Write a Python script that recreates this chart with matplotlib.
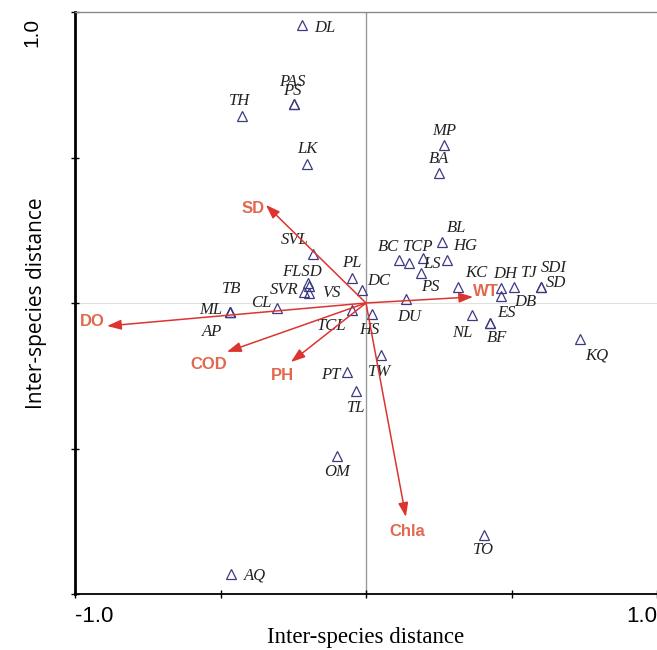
import matplotlib
matplotlib.use("Agg")
import matplotlib.pyplot as plt

# site scores (axis 1, axis 2) and label offsets in pixels
site_names = ["DL", "PAS", "PS", "TH", "LK", "MP", "BA", "BL", "BC", "TCP", "LS", "HG", "PS",
              "KC", "DH", "TJ", "SDI", "SD", "DB", "DU", "ES", "NL", "BF", "KQ", "TO", "AQ",
              "OM", "TL", "PT", "TW", "HS", "TCL", "DC", "PL", "SVL", "FLSD", "", "SVR", "VS",
              "CL", "TB", "ML", "AP"]
site_x = [-0.220, -0.247, -0.247, -0.426, -0.203, 0.268, 0.251, 0.261, 0.113, 0.148, 0.196, 0.278, 0.189,
          0.316, 0.464, 0.509, 0.601, 0.601, 0.464, 0.137, 0.426, 0.364, 0.426, 0.735, 0.405, -0.464,
          -0.100, -0.034, -0.065, 0.052, 0.021, -0.048, -0.014, -0.048, -0.182, -0.199, -0.196, -0.213, -0.196,
          -0.306, -0.467, -0.467, -0.467]
site_y = [0.955, 0.684, 0.684, 0.643, 0.478, 0.543, 0.447, 0.210, 0.148, 0.137, 0.155, 0.148, 0.103,
          0.055, 0.052, 0.055, 0.055, 0.055, 0.024, 0.014, -0.069, -0.041, -0.069, -0.124, -0.797, -0.931,
          -0.526, -0.302, -0.237, -0.179, -0.038, -0.024, 0.045, 0.086, 0.168, 0.069, 0.058, 0.038, 0.034,
          -0.017, -0.031, -0.031, -0.031]
label_dx = [23, -2, -2, -3, 0, 0, 0, 15, -10, 9, 9, 18, 9,
            18, 4, 15, 13, 15, 24, 3, 16, -10, 7, 17, 0, 24,
            0, 0, -16, -2, -3, -20, 17, 0, -18, -6, 0, -20, 22,
            -16, 1, -19, -18]
label_dy = [-3, 22, 13, 15, 15, 14, 14, 14, 13, 16, -6, 14, -14,
            14, 14, 14, 19, 4, -6, -18, 10, -18, -15, -16, -15, -2,
            -16, -17, -3, -17, -16, -16, 9, 15, 14, 11, 0, 2, 0,
            5, 23, 2, -20]

# environmental vectors
env_names = ["SD", "DO", "COD", "PH", "Chla", "WT"]
env_x = [-0.344, -0.890, -0.478, -0.258, 0.137, 0.368]
env_y = [0.337, -0.079, -0.168, -0.203, -0.735, 0.021]
env_dx = [-13, -15, -18, -8, 1, 13]
env_dy = [-4, 4, -13, -13, -15, 5]

fig = plt.figure(figsize=(6.57, 6.5), dpi=100)
ax = fig.add_axes([75 / 657, 56 / 650, 582 / 657, 582 / 650])
ax.set_xlim(-1, 1)
ax.set_ylim(-1, 1)

ax.axvline(0, color="#9a9a9a", lw=1, zorder=0)
ax.axhline(0, color="#e0e0e0", lw=0.8, zorder=0)

ax.plot(site_x, site_y, ls="none", marker="^", ms=6.5, mfc="none", mec="#3b3a82", mew=0.9, zorder=3)
for name, x, y, dx, dy in zip(site_names, site_x, site_y, label_dx, label_dy):
    if name:
        ax.annotate(name, (x, y), xytext=(dx, dy), textcoords="offset pixels", ha="center", va="center",
                    family="Liberation Serif", style="italic", fontsize=12, color="#222222")

for name, x, y, dx, dy in zip(env_names, env_x, env_y, env_dx, env_dy):
    ax.annotate("", xy=(x, y), xytext=(0, 0),
                arrowprops=dict(arrowstyle="-|>,head_length=0.85,head_width=0.3", color="#dc3530", lw=1.1,
                                shrinkA=0, shrinkB=0), zorder=4)
    ax.annotate(name, (x, y), xytext=(dx, dy), textcoords="offset pixels", ha="center", va="center",
                family="Liberation Sans", weight="bold", fontsize=12, color="#e2674d", zorder=5)

ax.spines["right"].set_visible(False)
ax.spines["top"].set_color("#8a8a8a")
ax.spines["top"].set_linewidth(1)
ax.spines["left"].set_linewidth(2)
ax.spines["bottom"].set_linewidth(1.3)

ticks = [-1, -0.5, 0, 0.5, 1]
ax.set_xticks(ticks)
ax.set_xticklabels(["-1.0", "", "", "", "1.0"], family="Liberation Sans", fontsize=16)
xl = ax.get_xticklabels()
xl[0].set_ha("left")
xl[-1].set_ha("right")
ax.set_yticks(ticks)
ax.set_yticklabels([])
ax.tick_params(axis="both", direction="inout", length=6, width=1)
ax.tick_params(axis="x", pad=6)

# y "1.0" sits below the top of the axis, rotated
ax.text(-0.074, 0.99, "1.0", transform=ax.transAxes, rotation=90, ha="center", va="top",
        family="Liberation Sans", fontsize=15)

ax.set_xlabel("Inter-species distance", family="Liberation Serif", fontsize=16.5, labelpad=0)
ax.set_ylabel("Inter-species distance", family="Open Sans", fontsize=15, labelpad=14)

fig.savefig("out.png", dpi=100)
